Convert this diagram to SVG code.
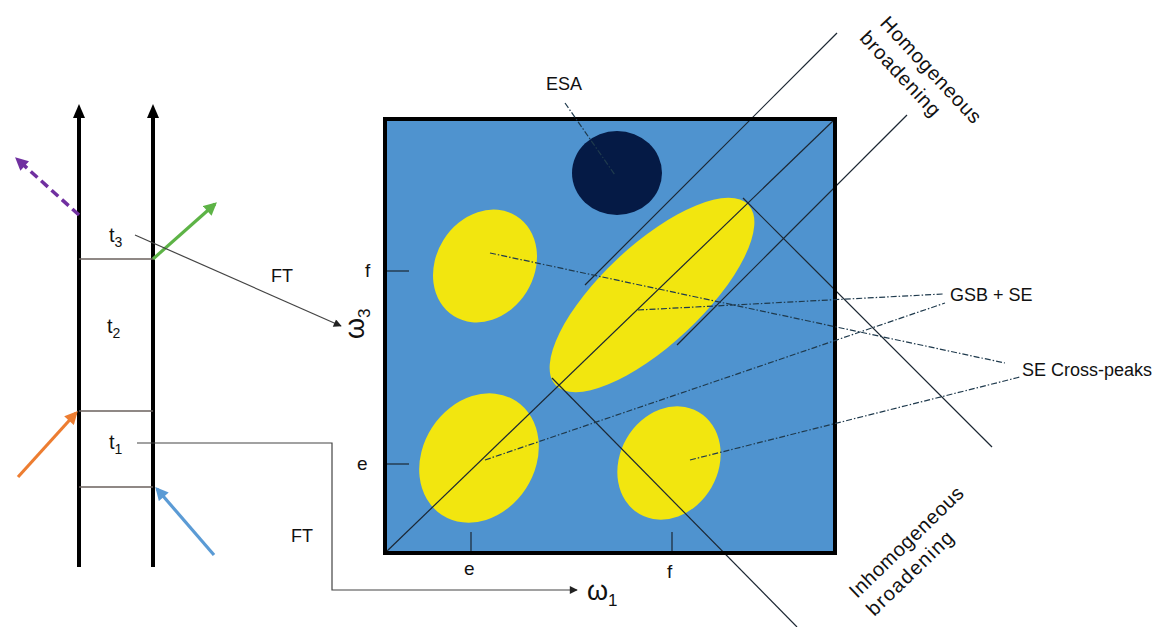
<svg xmlns="http://www.w3.org/2000/svg" width="1160" height="627" viewBox="0 0 1160 627">
<style>
text{font-family:"Liberation Sans",Arial,sans-serif;fill:#111;}
.lbl{font-size:18px;}
.thin{stroke:#1c2733;stroke-width:1.2;fill:none;}
.dd{stroke:#1f3a4d;stroke-width:1.2;fill:none;stroke-dasharray:6,2,1.5,2;}
.rung{stroke:#6a605c;stroke-width:1.5;}
.rail{stroke:#000;stroke-width:4;}
.conn{stroke:#444;stroke-width:1.2;fill:none;}
.yel{fill:#f2e60f;}
</style>
<defs>
<marker id="ahSmall" viewBox="0 0 10 10" refX="9" refY="5" markerWidth="9" markerHeight="8" markerUnits="userSpaceOnUse" orient="auto"><path d="M0,0 L10,5 L0,10 z" fill="#222"/></marker>
<marker id="ahPurple" viewBox="0 0 10 10" refX="8" refY="5" markerWidth="14" markerHeight="13" markerUnits="userSpaceOnUse" orient="auto"><path d="M0,0 L10,5 L0,10 z" fill="#7030a0"/></marker>
<marker id="ahGreen" viewBox="0 0 10 10" refX="8" refY="5" markerWidth="14" markerHeight="13" markerUnits="userSpaceOnUse" orient="auto"><path d="M0,0 L10,5 L0,10 z" fill="#5db346"/></marker>
<marker id="ahOrange" viewBox="0 0 10 10" refX="8" refY="5" markerWidth="14" markerHeight="13" markerUnits="userSpaceOnUse" orient="auto"><path d="M0,0 L10,5 L0,10 z" fill="#ed7d31"/></marker>
<marker id="ahBlue" viewBox="0 0 10 10" refX="8" refY="5" markerWidth="14" markerHeight="13" markerUnits="userSpaceOnUse" orient="auto"><path d="M0,0 L10,5 L0,10 z" fill="#5b9bd5"/></marker>
</defs>

<g id="ladder">
<line class="rail" x1="79" y1="116" x2="79" y2="567"/>
<line class="rail" x1="153" y1="116" x2="153" y2="567"/>
<polygon points="79,104 73,118 85,118" fill="#000"/>
<polygon points="153,104 147,118 159,118" fill="#000"/>
<line class="rung" x1="79" y1="259" x2="153" y2="259"/>
<line class="rung" x1="79" y1="411" x2="153" y2="411"/>
<line class="rung" x1="79" y1="487" x2="153" y2="487"/>
<text x="109" y="242" font-size="20">t<tspan dy="5" font-size="14">3</tspan></text>
<text x="107" y="333" font-size="20">t<tspan dy="5" font-size="14">2</tspan></text>
<text x="109" y="449" font-size="20">t<tspan dy="5" font-size="14">1</tspan></text>
</g>

<g id="pulses">
<line x1="79" y1="215" x2="17" y2="159" stroke="#7030a0" stroke-width="3.5" stroke-dasharray="9,5" marker-end="url(#ahPurple)"/>
<line x1="153" y1="259" x2="215" y2="204" stroke="#5db346" stroke-width="3.2" marker-end="url(#ahGreen)"/>
<line x1="18" y1="477" x2="76" y2="413" stroke="#ed7d31" stroke-width="3.2" marker-end="url(#ahOrange)"/>
<line x1="214" y1="555" x2="157" y2="489" stroke="#5b9bd5" stroke-width="3.2" marker-end="url(#ahBlue)"/>
</g>

<g id="plot">
<rect x="385" y="119" width="450" height="434" fill="#4f93cf"/>
<ellipse cx="617" cy="173" rx="45" ry="42" fill="#051a45"/>
<ellipse class="yel" cx="485" cy="266" rx="49" ry="59" transform="rotate(32 485 266)"/>
<ellipse class="yel" cx="479" cy="458" rx="56" ry="68" transform="rotate(33 479 458)"/>
<ellipse class="yel" cx="669" cy="463" rx="49" ry="59" transform="rotate(30 669 463)"/>
<ellipse class="yel" cx="652" cy="295" rx="132" ry="50" transform="rotate(-43 652 295)"/>
<line class="thin" x1="385" y1="553" x2="835" y2="119"/>
<line class="thin" x1="585" y1="285" x2="837" y2="33"/>
<line class="thin" x1="677" y1="345" x2="907" y2="115"/>
<line class="thin" x1="552" y1="378" x2="797" y2="627"/>
<line class="thin" x1="743" y1="198" x2="992" y2="447"/>
<line class="thin" x1="385" y1="271" x2="409" y2="271" stroke-width="1.5"/>
<line class="thin" x1="385" y1="464" x2="409" y2="464" stroke-width="1.5"/>
<line class="thin" x1="471" y1="532" x2="471" y2="553" stroke-width="1.5"/>
<line class="thin" x1="672" y1="532" x2="672" y2="553" stroke-width="1.5"/>
<rect x="385" y="119" width="450" height="434" fill="none" stroke="#000" stroke-width="4"/>
<text x="365" y="277" font-size="19">f</text>
<text x="357" y="470" font-size="19">e</text>
<text x="464" y="575" font-size="19">e</text>
<text x="667" y="578" font-size="19">f</text>
</g>

<g id="connectors">
<polyline class="conn" points="137,443 332,443 332,590 577,590" marker-end="url(#ahSmall)"/>
<line class="conn" x1="135" y1="235" x2="341" y2="326" marker-end="url(#ahSmall)"/>
<line class="dd" x1="565" y1="103" x2="615" y2="175"/>
<line class="dd" x1="490" y1="253" x2="1005" y2="363"/>
<line class="dd" x1="638" y1="310" x2="943" y2="294"/>
<line class="dd" x1="485" y1="460" x2="945" y2="303"/>
<line class="dd" x1="690" y1="460" x2="1020" y2="377"/>
</g>

<g id="labels">
<text x="271" y="282" font-size="18">FT</text>
<text x="291" y="542" font-size="18">FT</text>
<text x="587" y="600" font-size="27">ω<tspan dy="6" font-size="17">1</tspan></text>
<text transform="translate(364,339) rotate(-90)" font-size="27">ω<tspan dy="6" font-size="17">3</tspan></text>
<text class="lbl" x="546" y="90">ESA</text>
<text class="lbl" x="950" y="301">GSB + SE</text>
<text class="lbl" x="1022" y="376">SE Cross-peaks</text>
<g transform="translate(879,24) rotate(47)">
<text x="0" y="0" font-size="20" textLength="138">Homogeneous</text>
<text x="-3" y="25" font-size="20" textLength="108">broadening</text>
</g>
<g transform="translate(857,599) rotate(-44)">
<text x="0" y="0" font-size="20" textLength="150">Inhomogeneous</text>
<text x="0" y="25" font-size="20" textLength="112">broadening</text>
</g>
</g>
</svg>
